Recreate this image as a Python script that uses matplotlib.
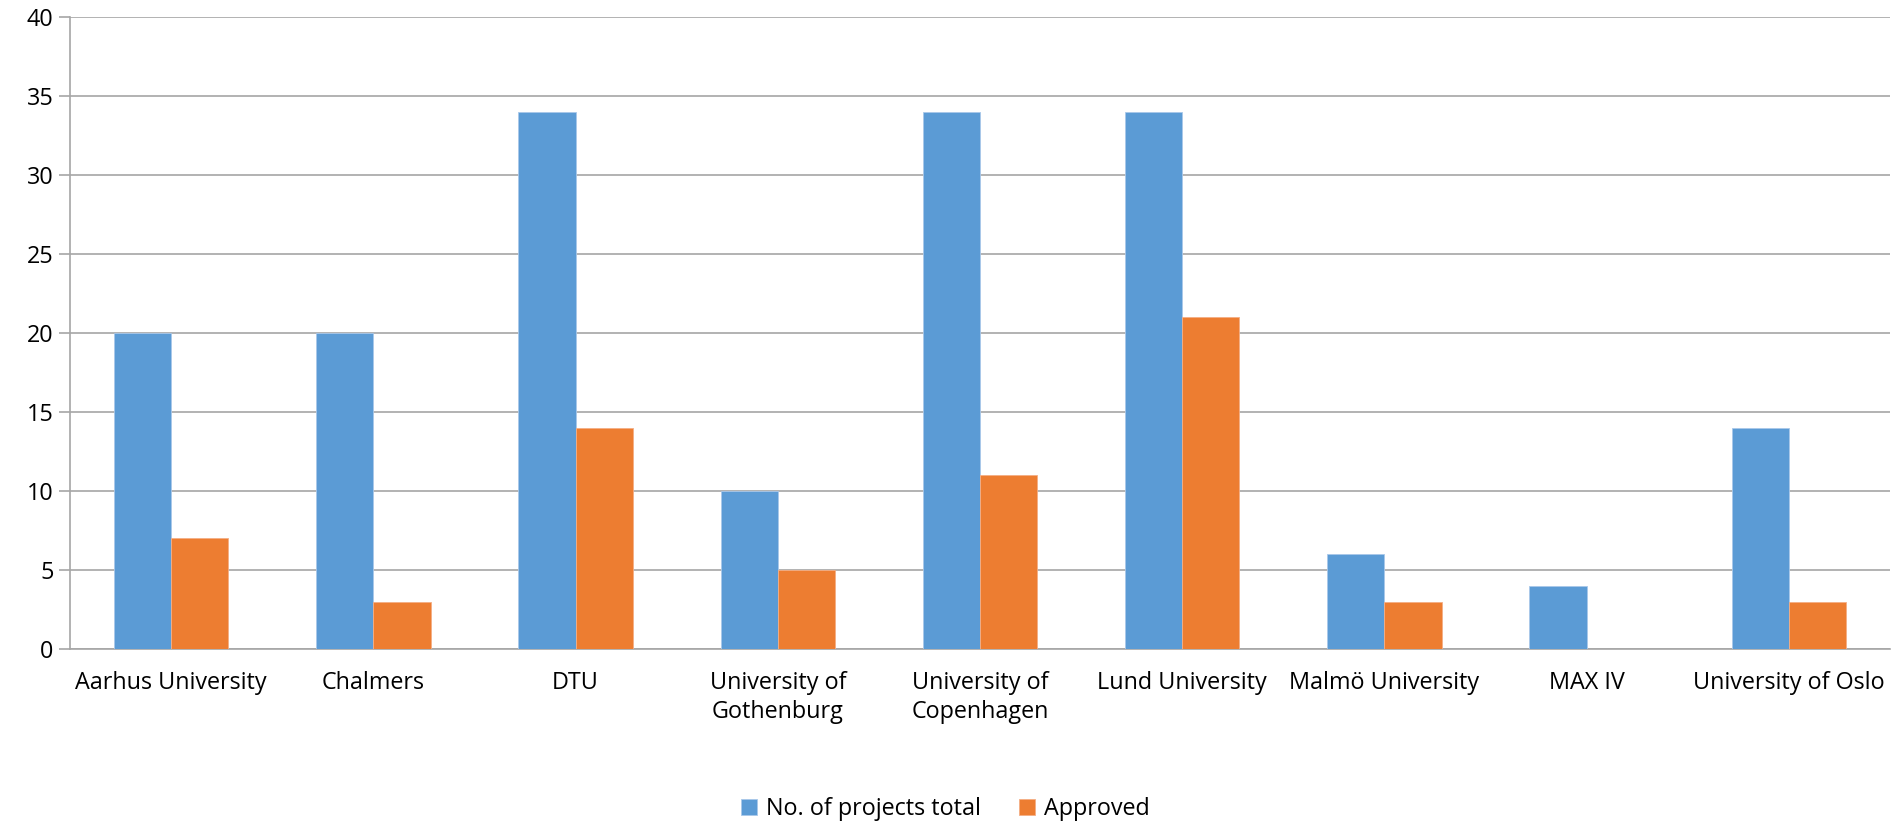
import matplotlib.pyplot as plt
import numpy as np

# chart data
universities = ['Aarhus University', 'Chalmers', 'DTU', 'University of\nGothenburg',
                'University of\nCopenhagen', 'Lund University', 'Malmö University',
                'MAX IV', 'University of Oslo']
projects_total = [20, 20, 34, 10, 34, 34, 6, 4, 14]
approved = [7, 3, 14, 5, 11, 21, 3, 0, 3]
yticks = [0, 5, 10, 15, 20, 25, 30, 35, 40]

plt.rcParams['font.family'] = ['Open Sans', 'DejaVu Sans']

fig = plt.figure(figsize=(18.91, 8.23), dpi=100)
ax = fig.add_axes([70 / 1891, 1 - 649 / 823, 1820 / 1891, 632 / 823])

x = np.arange(len(universities))
w = 0.283
ax.bar(x - w / 2, projects_total, w, color='#5B9BD5', edgecolor='#A9C8EA',
       linewidth=0.6, label='No. of projects total', zorder=3)
ax.bar(x + w / 2, approved, w, color='#ED7D31', edgecolor='#F4AE85',
       linewidth=0.6, label='Approved', zorder=3)

ax.set_xlim(-0.5, len(universities) - 0.5)
ax.set_ylim(0, 40)
ax.set_yticks(yticks)
ax.set_xticks(x)
ax.set_xticklabels(universities, fontsize=16.8, linespacing=1.25)
ax.tick_params(axis='x', length=0, pad=16)
ax.tick_params(axis='y', length=8, width=1.2, color='#A6A6A6', labelsize=16.8, pad=4)
ax.grid(axis='y', color='#A6A6A6', linewidth=1.2, zorder=0)

for s in ['top', 'right']:
    ax.spines[s].set_visible(False)
ax.spines['left'].set_color('#A6A6A6')
ax.spines['left'].set_linewidth(1.2)
ax.spines['bottom'].set_color('#A6A6A6')
ax.spines['bottom'].set_linewidth(1.2)

fig.legend(loc='center', bbox_to_anchor=(0.5, 0.017), ncol=2, frameon=False,
           fontsize=16.8, handlelength=0.7, handleheight=0.7, columnspacing=1.6,
           handletextpad=0.4)

fig.savefig('out.png', dpi=100)
